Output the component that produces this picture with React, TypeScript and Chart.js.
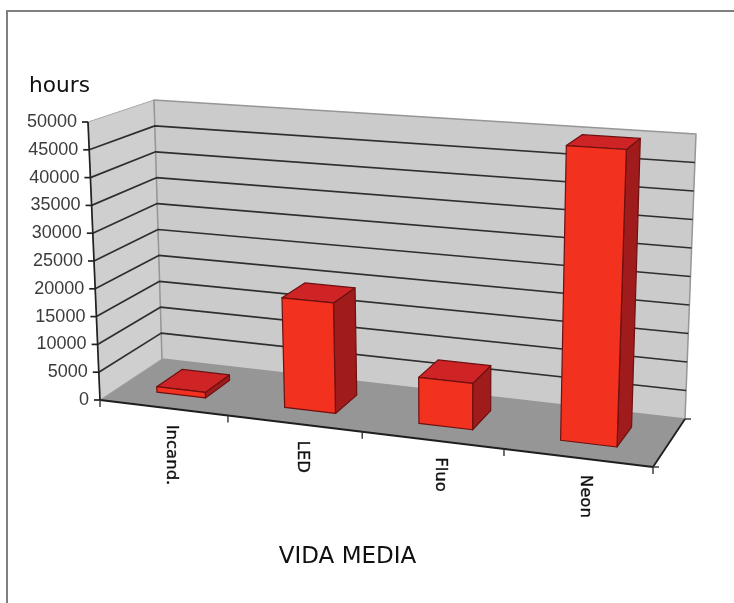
import React, { useEffect, useRef } from "react";
import { Chart, registerables } from "chart.js";

Chart.register(...registerables);

const categories = ["Incand.", "LED", "Fluo", "Neon"];
const lifeHours = [1000, 19500, 8000, 50000];
const yMax = 50000;
const yStep = 5000;
const yTitle = "hours";
const xTitle = "VIDA MEDIA";

type Pt = [number, number];
// Projection corners of the 3D box: front-left, front-right, back-right, back-left
const floorQuad: Pt[] = [[100, 400], [653, 467], [685, 419], [162, 359]];
const roofQuad: Pt[] = [[88, 122], [666, 161], [696, 134], [154, 100]];
const barDepth: [number, number] = [0.29, 0.71];
const perspectiveBend = 0.008;

function homography(q: Pt[]) {
  const [[x0, y0], [x1, y1], [x2, y2], [x3, y3]] = q;
  const dx1 = x1 - x2, dx2 = x3 - x2, sx = x0 - x1 + x2 - x3;
  const dy1 = y1 - y2, dy2 = y3 - y2, sy = y0 - y1 + y2 - y3;
  const den = dx1 * dy2 - dx2 * dy1;
  const g = (sx * dy2 - dx2 * sy) / den;
  const h = (dx1 * sy - sx * dy1) / den;
  const a = x1 - x0 + g * x1, b = x3 - x0 + h * x3;
  const d = y1 - y0 + g * y1, e = y3 - y0 + h * y3;
  return (u: number, v: number): Pt => {
    const w = g * u + h * v + 1;
    return [(a * u + b * v + x0) / w, (d * u + e * v + y0) / w];
  };
}
const floorH = homography(floorQuad);
const roofH = homography(roofQuad);
const project = (uRaw: number, depth: number, t: number): Pt => {
  const u = uRaw - perspectiveBend * Math.sin(Math.PI * uRaw);
  const p = floorH(u, depth);
  const r = roofH(u, depth);
  return [p[0] + (r[0] - p[0]) * t, p[1] + (r[1] - p[1]) * t];
};

function poly(ctx: CanvasRenderingContext2D, pts: Pt[], fill: string, stroke?: string, lw = 1) {
  ctx.beginPath();
  pts.forEach((p, i) => (i ? ctx.lineTo(p[0], p[1]) : ctx.moveTo(p[0], p[1])));
  ctx.closePath();
  ctx.fillStyle = fill;
  ctx.fill();
  if (stroke) {
    ctx.strokeStyle = stroke;
    ctx.lineWidth = lw;
    ctx.lineJoin = "round";
    ctx.stroke();
  }
}
function line(ctx: CanvasRenderingContext2D, pts: Pt[], color: string, lw: number) {
  ctx.beginPath();
  pts.forEach((p, i) => (i ? ctx.lineTo(p[0], p[1]) : ctx.moveTo(p[0], p[1])));
  ctx.strokeStyle = color;
  ctx.lineWidth = lw;
  ctx.stroke();
}

const box3d = {
  id: "box3d",
  beforeDatasetsDraw(chart: any) {
    const { ctx, chartArea: area, scales } = chart;
    const x = scales.x, y = scales.y;
    const uOf = (px: number) => (px - area.left) / (area.right - area.left);
    const tOf = (px: number) => (area.bottom - px) / (area.bottom - area.top);
    ctx.save();

    // walls and floor
    poly(ctx, [project(0, 0, 0), project(0, 1, 0), project(0, 1, 1), project(0, 0, 1)], "#cfcfcf", "#a8a8a8", 1);
    poly(ctx, [project(0, 1, 0), project(1, 1, 0), project(1, 1, 1), project(0, 1, 1)], "#cbcbcb", "#969696", 1.5);
    poly(ctx, [project(0, 0, 0), project(1, 0, 0), project(1, 1, 0), project(0, 1, 0)], "#969696");

    // gridlines and value axis with tick labels
    ctx.font = "18px 'Liberation Sans'";
    ctx.textAlign = "right";
    ctx.textBaseline = "middle";
    y.ticks.forEach((tk: any) => {
      const t = tOf(y.getPixelForValue(tk.value));
      const a = project(0, 0, t), b = project(0, 1, t), c = project(1, 1, t);
      if (tk.value > 0 && tk.value < yMax) line(ctx, [a, b, c], "#2e2e2e", 1.7);
      line(ctx, [[a[0] - 6, a[1]], a], "#222222", 1.7);
      ctx.fillStyle = "#3c3c3c";
      ctx.fillText(String(tk.value), a[0] - 11, a[1]);
    });
    line(ctx, [project(0, 0, 0), project(0, 0, 1)], "#222222", 1.7);

    // floor edges and category ticks
    line(ctx, [project(0, 0, 0), project(1, 0, 0)], "#1e1e1e", 1.8);
    line(ctx, [project(1, 0, 0), project(1, 1, 0)], "#1e1e1e", 1.8);
    line(ctx, [project(1, 1, 0), [project(1, 1, 0)[0] + 6, project(1, 1, 0)[1]]], "#333333", 1.4);
    line(ctx, [project(1, 0, 0), [project(1, 0, 0)[0] + 6, project(1, 0, 0)[1]]], "#333333", 1.4);
    for (let i = 0; i <= categories.length; i++) {
      const px = i === 0 ? area.left : i === categories.length ? area.right : (x.getPixelForValue(i - 1) + x.getPixelForValue(i)) / 2;
      const p = project(uOf(px), 0, 0);
      line(ctx, [p, [p[0], p[1] + 7]], "#333333", 1.4);
    }

    // bars, from the library's bar elements
    const meta = chart.getDatasetMeta(0);
    meta.data.forEach((el: any) => {
      const u0 = uOf(el.x - el.width / 2), u1 = uOf(el.x + el.width / 2);
      const t = tOf(el.y);
      const [d0, d1] = barDepth;
      const edge = "#6e1010";
      poly(ctx, [project(u1, d0, 0), project(u1, d1, 0), project(u1, d1, t), project(u1, d0, t)], "#a01c1c", edge, 1.2);
      poly(ctx, [project(u0, d0, t), project(u1, d0, t), project(u1, d1, t), project(u0, d1, t)], "#cf2426", edge, 1.2);
      poly(ctx, [project(u0, d0, 0), project(u1, d0, 0), project(u1, d0, t), project(u0, d0, t)], "#f2311f", edge, 1.2);
    });

    // category labels, rotated
    ctx.font = "16.5px 'DejaVu Sans'";
    ctx.fillStyle = "#111111";
    ctx.strokeStyle = "#111111";
    ctx.lineWidth = 0.35;
    ctx.textAlign = "left";
    ctx.textBaseline = "middle";
    categories.forEach((label, i) => {
      const p = project(uOf(x.getPixelForValue(i)), 0, 0);
      ctx.save();
      ctx.translate(p[0] + 8, p[1] + 17);
      ctx.rotate(Math.PI / 2);
      ctx.fillText(label, 0, 0);
      ctx.strokeText(label, 0, 0);
      ctx.restore();
    });

    // titles
    ctx.fillStyle = "#111111";
    ctx.textBaseline = "alphabetic";
    ctx.font = "21.7px 'DejaVu Sans'";
    ctx.fillText(yTitle, 29, 92);
    ctx.font = "23px 'DejaVu Sans'";
    ctx.textAlign = "center";
    ctx.fillText(xTitle, 347.5, 563);
    ctx.restore();
    return false;
  },
};

export default function App() {
  const ref = useRef<HTMLCanvasElement>(null);
  useEffect(() => {
    const chart = new Chart(ref.current!, {
      type: "bar",
      data: {
        labels: categories,
        datasets: [{ label: yTitle, data: lifeHours, backgroundColor: "#f2311f", barPercentage: 0.385, categoryPercentage: 1 }],
      },
      options: {
        animation: false,
        responsive: false,
        layout: { padding: { left: 88, right: 81, top: 122, bottom: 203 } },
        plugins: { legend: { display: false }, tooltip: { enabled: false } },
        scales: {
          x: { display: false },
          y: { display: false, min: 0, max: yMax, ticks: { stepSize: yStep } },
        },
      },
      plugins: [box3d],
    } as any);
    return () => chart.destroy();
  }, []);
  return (
    <div style={{ position: "fixed", left: 0, top: 0, width: 734, height: 603, background: "#fff", overflow: "hidden" }}>
      <div style={{ position: "absolute", left: 6, top: 10, width: 740, height: 610, borderTop: "2px solid #808080", borderLeft: "2px solid #808080" }} />
      <canvas ref={ref} width={734} height={603} style={{ position: "absolute", left: 0, top: 0, display: "block", filter: "blur(0.5px)" }} />
    </div>
  );
}
